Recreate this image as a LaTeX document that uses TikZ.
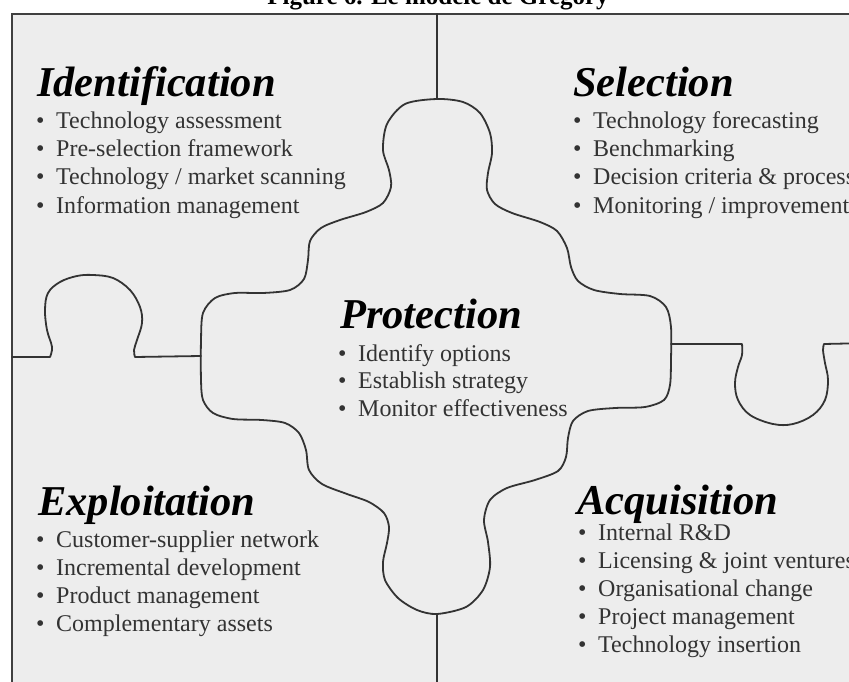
\documentclass[tikz,border=0pt]{standalone}
\usepackage{fontspec}
\setmainfont{Liberation Serif}
\newcommand\bulletitem[1]{\makebox[20pt][l]{\textbullet}#1}
\begin{document}
\begin{tikzpicture}[x=1pt,y=-1pt,
  puzzle/.style={draw=black!80, line width=1.8pt, line join=round, line cap=round},
  frameline/.style={draw=black!75, line width=2.4pt},
  head/.style={anchor=base west, inner sep=0pt, font=\fontsize{42.5}{46}\selectfont\bfseries\itshape},
  item/.style={anchor=base west, inner sep=0pt, text=black!80, font=\fontsize{24}{28}\selectfont},
  ]
\useasboundingbox (0,0) rectangle (849,682);
\clip (0,0) rectangle (849,682);
\fill[white] (0,0) rectangle (849,682);
\fill[black!7] (12,14) rectangle (870,700);

% title (cut by the top edge)
\node[anchor=base, inner sep=0pt, font=\fontsize{25}{30}\selectfont\bfseries] (title) at (438,5) {Figure 6. Le modèle de Gregory};

% frame
\draw[frameline] (12,700) -- (12,14) -- (870,14);

% dividers
\draw[puzzle] (437,14) -- (437,99);
\draw[puzzle] (437,614) -- (437,700);

% central piece
\draw[puzzle] plot[smooth cycle, tension=0.5] coordinates {
(437,99) (463,102) (480,113) (490,133) (492,153) (488,173) (487,190) (495,204) (512,213) (540,222) (557,231) (567,248) (571,267) (578,281) (594,290) (620,294) (650,296) (666,307) (671,327) (671,360) (670,385) (664,400) (645,407) (615,408) (588,411) (573,421) (568,438) (566,457) (558,471) (535,480) (507,488) (490,500) (484,520) (488,542) (490,567) (483,590) (466,607) (437,614) (417,610) (398,598) (385,580) (383,562) (387,543) (389,527) (384,513) (369,502) (347,494) (322,484) (309,470) (306,450) (299,433) (285,423) (262,420) (233,419) (213,413) (203,400) (201,380) (201,340) (203,313) (215,298) (235,293) (263,293) (290,290) (304,279) (308,260) (310,241) (321,228) (340,220) (366,212) (383,203) (391,187) (389,170) (383,150) (387,124) (405,104)};

% left tab
\draw[puzzle] (12,357) -- (50,357) -- plot[smooth, tension=0.6] coordinates {(50,357) (52,347) (47,330) (45,310) (48,293) (60,282) (77,276) (93,275) (113,278) (130,290) (140,307) (142,323) (137,340) (134,350) (135,357)} -- (201,356);

% right socket
\draw[puzzle] (671,344) -- (742,344) -- plot[smooth, tension=0.6] coordinates {(742,344) (742,355) (738,367) (735,383) (738,400) (750,415) (773,424) (793,424) (813,415) (825,400) (828,380) (825,363) (823,350) (824,344)} -- (870,343);

% headings
\node[head] (ident) at (37,97) {Identification};
\node[head] (select) at (573,97) {Selection};
\node[head] (protect) at (340,328) {Protection};
\node[head] (exploit) at (38,515) {Exploitation};
\node[head] (acquis) at (577,514) {Acquisition};

% items
\foreach \t [count=\i from 0] in {Technology assessment, Pre-selection framework, Technology / market scanning, Information management}
  \node[item] (identitem\i) at (36,{129+28*\i}) {\bulletitem{\t}};
\foreach \t [count=\i from 0] in {Technology forecasting, Benchmarking, Decision criteria \& process, Monitoring / improvement}
  \node[item] (selectitem\i) at (573,{129+28*\i}) {\bulletitem{\t}};
\foreach \t [count=\i from 0] in {Identify options, Establish strategy, Monitor effectiveness}
  \node[item] (protectitem\i) at (338,{361+27.5*\i}) {\bulletitem{\t}};
\foreach \t [count=\i from 0] in {Customer-supplier network, Incremental development, Product management, Complementary assets}
  \node[item] (exploititem\i) at (36,{547+28*\i}) {\bulletitem{\t}};
\foreach \t [count=\i from 0] in {Internal R\&D, Licensing \& joint ventures, Organisational change, Project management, Technology insertion}
  \node[item] (acquisitem\i) at (578,{540+28*\i}) {\bulletitem{\t}};
\end{tikzpicture}
\end{document}
